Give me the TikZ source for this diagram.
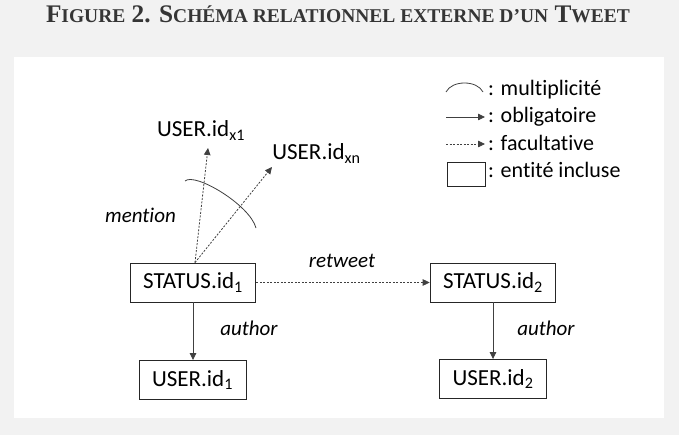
\documentclass[tikz,border=0pt]{standalone}
\usepackage{fontspec}
\setmainfont{Carlito}[Ligatures=NoCommon]
\newfontfamily\titlefont{Liberation Serif}
\usetikzlibrary{arrows.meta}
\definecolor{bggray}{HTML}{F2F2F2}
\definecolor{titlegray}{HTML}{353535}
\definecolor{linegray}{HTML}{404040}
\newcommand{\smallcap}[1]{{\fontsize{19.5}{22}\selectfont #1}}

\begin{document}
\begin{tikzpicture}[x=1pt, y=-1pt,
	entity/.style={draw=black!85, line width=0.9pt, inner xsep=13pt, minimum height=39pt, font=\fontsize{23}{27}\selectfont},
	role/.style={font=\fontsize{21}{25}\selectfont\itshape, anchor=base},
	mentioned/.style={font=\fontsize{23}{27}\selectfont, anchor=base},
	legend text/.style={font=\fontsize{22}{26}\selectfont, anchor=base west, inner sep=0pt},
	must/.style={draw=linegray, line width=0.8pt, -{Triangle[length=7pt,width=6.5pt]}},
	may/.style={must, dash pattern=on 2pt off 1.5pt}]
		\useasboundingbox (0,0) rectangle (679,435);
		\fill[bggray] (0,0) rectangle (679,435);
		\fill[white] (14,57) rectangle (664,418);
		\node[font=\titlefont\bfseries\fontsize{25.3}{29}\selectfont, text=titlegray, anchor=base] (title) at (338,23) {F\smallcap{IGURE} 2. S\smallcap{CHÉMA RELATIONNEL EXTERNE D’UN} T\smallcap{WEET}};
		\node[entity] (status1) at (193,282.5) {STATUS.id\textsubscript{1}};
		\node[entity] (status2) at (493,282.5) {STATUS.id\textsubscript{2}};
		\node[entity] (user1) at (192.5,380) {USER.id\textsubscript{1}};
		\node[entity] (user2) at (493,379) {USER.id\textsubscript{2}};
		\node[mentioned] (userx1) at (201,137) {USER.id\textsubscript{x1}};
		\node[mentioned] (userxn) at (316.5,160) {USER.id\textsubscript{xn}};
		\coordinate (tipx1) at (208,148);
		\coordinate (tipxn) at (272,167);
		\draw[may] ([xshift=2pt]status1.north) -- (tipx1);
		\draw[may] ([xshift=2pt]status1.north) -- (tipxn);
		\draw[linegray, line width=0.8pt] (185,181) .. controls (195,172) and (250,205) .. (256,228);
		\draw[may] (status1.east) -- (status2.west);
		\draw[must] (status1.south) -- (status1.south |- user1.north);
		\draw[must] (status2.south) -- (user2.north);
		\node[role] (mention) at (140.5,223) {mention};
		\node[role] (retweet) at (342,268) {retweet};
		\node[role] (author1) at (249,335) {author};
		\node[role] (author2) at (546,335) {author};
		\draw[linegray, line width=0.8pt] (446,92) .. controls (452,80) and (477,80) .. (483,92);
		\draw[must] (446,117) -- (485,117);
		\draw[may] (446,144) -- (485,144);
		\draw[black!85, line width=0.9pt] (447,162) rectangle (485,186);
		\node[legend text] (multi) at (488,96) {: multiplicité};
		\node[legend text] (oblig) at (488,123) {: obligatoire};
		\node[legend text] (facul) at (488,151) {: facultative};
		\node[legend text] (incl) at (488,178) {: entité incluse};
	\end{tikzpicture}
\end{document}
